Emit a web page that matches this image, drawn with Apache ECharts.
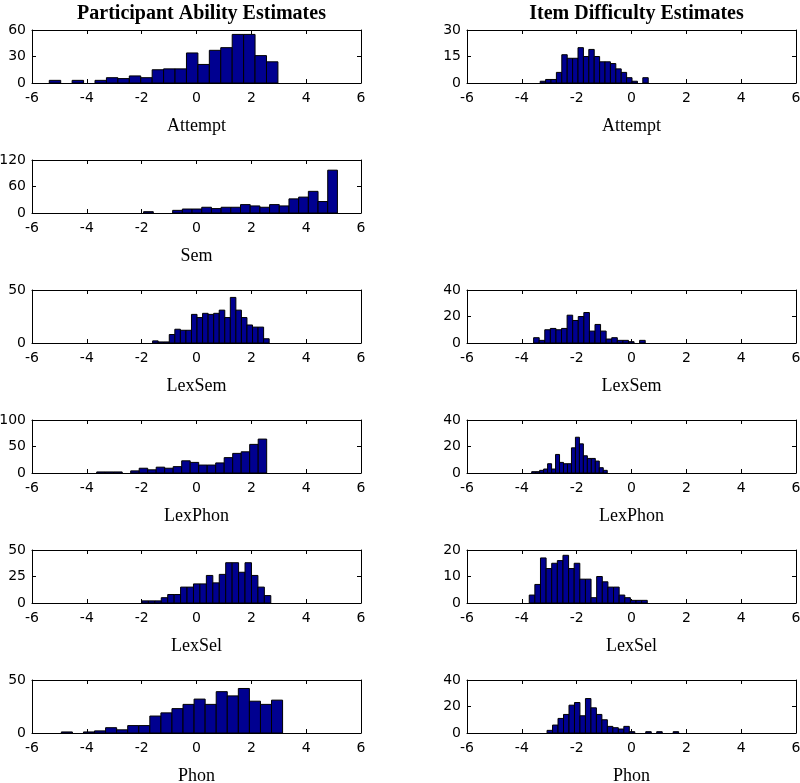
<!DOCTYPE html>
<html><head><meta charset="utf-8">
<script src="https://cdn.jsdelivr.net/npm/echarts@6/dist/echarts.min.js"></script>
<style>html,body{margin:0;padding:0;background:#fff}#c{width:800px;height:783px}</style>
</head><body><div id="c"></div>
<script>
// ---- data: histogram bins (first edge, bin width, counts) ----
const pAttemptStart = -5.37, pAttemptWidth = 0.417;
const pAttemptCounts = [3,0,3,0,3,6,5,8,6,15,16,16,34,21,37,40,55,55,31,24];
const iAttemptStart = -3.33, iAttemptWidth = 0.197;
const iAttemptCounts = [1,2,2,6,16,14,14,20,15,19,15,12,12,11,8,6,3,1,0,3];
const pSemStart = -1.93, pSemWidth = 0.3535;
const pSemCounts = [3,0,0,6,9,9,13,10,13,13,19,16,13,19,16,32,36,49,26,97];
const pLexSemStart = -1.6, pLexSemWidth = 0.2024;
const pLexSemCounts = [2,1,1,8,13,12,12,27,24,28,27,28,31,24,43,31,24,17,15,15,4];
const iLexSemStart = -3.57, iLexSemWidth = 0.2035;
const iLexSemCounts = [4,2,10,11,10,11,21,17,20,23,9,14,9,3,4,2,2,1,0,2];
const pLexPhonStart = -3.64, pLexPhonWidth = 0.31;
const pLexPhonCounts = [2,2,2,0,4,9,6,11,9,12,23,20,15,15,19,29,37,40,54,64];
const iLexPhonStart = -3.64, iLexPhonWidth = 0.145;
const iLexPhonCounts = [1,1,2,3,7,3,14,8,7,7,19,27,22,13,11,11,9,4,2,0];
const pLexSelStart = -1.99, pLexSelWidth = 0.235;
const pLexSelCounts = [2,2,2,5,8,8,15,15,18,18,26,19,27,38,38,29,38,26,15,7];
const iLexSelStart = -3.73, iLexSelWidth = 0.205;
const iLexSelCounts = [3,7,17,13,15,16,18,13,15,9,9,2,10,8,6,6,3,2,1,1,1];
const pPhonStart = -4.93, pPhonWidth = 0.4035;
const pPhonCounts = [1,0,1,2,5,3,7,7,16,19,23,27,32,27,39,35,42,30,27,31];
const iPhonStart = -3.08, iPhonWidth = 0.2;
const iPhonCounts = [2,6,11,14,21,23,13,26,19,14,10,5,4,3,5,1,0,0,1,0,1,0,0,1];

const columnTitles = ['Participant Ability Estimates', 'Item Difficulty Estimates'];
const xMin = -6, xMax = 6, xStep = 2;

const panels = [
  {label:'Attempt', col:0, row:0, start:pAttemptStart, width:pAttemptWidth, counts:pAttemptCounts, yMax:60, yStep:30},
  {label:'Attempt', col:1, row:0, start:iAttemptStart, width:iAttemptWidth, counts:iAttemptCounts, yMax:30, yStep:15},
  {label:'Sem', col:0, row:1, start:pSemStart, width:pSemWidth, counts:pSemCounts, yMax:120, yStep:60},
  {label:'LexSem', col:0, row:2, start:pLexSemStart, width:pLexSemWidth, counts:pLexSemCounts, yMax:50, yStep:50},
  {label:'LexSem', col:1, row:2, start:iLexSemStart, width:iLexSemWidth, counts:iLexSemCounts, yMax:40, yStep:20},
  {label:'LexPhon', col:0, row:3, start:pLexPhonStart, width:pLexPhonWidth, counts:pLexPhonCounts, yMax:100, yStep:50},
  {label:'LexPhon', col:1, row:3, start:iLexPhonStart, width:iLexPhonWidth, counts:iLexPhonCounts, yMax:40, yStep:20},
  {label:'LexSel', col:0, row:4, start:pLexSelStart, width:pLexSelWidth, counts:pLexSelCounts, yMax:50, yStep:25},
  {label:'LexSel', col:1, row:4, start:iLexSelStart, width:iLexSelWidth, counts:iLexSelCounts, yMax:20, yStep:10},
  {label:'Phon', col:0, row:5, start:pPhonStart, width:pPhonWidth, counts:pPhonCounts, yMax:50, yStep:50},
  {label:'Phon', col:1, row:5, start:iPhonStart, width:iPhonWidth, counts:iPhonCounts, yMax:40, yStep:20}
];

// ---- layout ----
const colLeft = [32, 467], plotW = 329, plotH = 53, rowTop0 = 30, rowGap = 130;
const tickFont = {color:'#000', fontFamily:'DejaVu Sans', fontSize:14};
const black = {color:'#000', width:1};
const grids = [], xAxes = [], yAxes = [], series = [];

panels.forEach((p, i) => {
  grids.push({left: colLeft[p.col], top: rowTop0 + p.row*rowGap, width: plotW, height: plotH,
    containLabel:false, outerBoundsMode:'none'});
  const baseX = {gridIndex:i, type:'value', min:xMin, max:xMax, interval:xStep,
    axisLine:{show:true, onZero:false, lineStyle:black}, splitLine:{show:false},
    axisTick:{show:true, inside:true, length:4, lineStyle:black}};
  xAxes.push(Object.assign({}, baseX, {position:'bottom',
    axisLabel:{...tickFont, margin:8},
    name:p.label, nameLocation:'middle', nameGap:34,
    nameTextStyle:{color:'#000', fontFamily:'Liberation Serif', fontSize:18}}));
  xAxes.push(Object.assign({}, baseX, {position:'top', axisLabel:{show:false}}));
  const baseY = {gridIndex:i, type:'value', min:0, max:p.yMax, interval:p.yStep,
    axisLine:{show:true, onZero:false, lineStyle:black}, splitLine:{show:false},
    axisTick:{show:true, inside:true, length:4, lineStyle:black}};
  yAxes.push(Object.assign({}, baseY, {position:'left', axisLabel:{...tickFont, margin:6}}));
  yAxes.push(Object.assign({}, baseY, {position:'right', axisLabel:{show:false}}));
  const data = [];
  p.counts.forEach((c, k) => {
    if (c > 0) data.push([p.start + k*p.width, p.start + (k+1)*p.width, c]);
  });
  series.push({type:'custom', xAxisIndex:2*i, yAxisIndex:2*i, data,
    encode:{x:[0,1], y:2}, silent:true, z:1,
    renderItem: (params, api) => {
      const a = api.coord([api.value(0), api.value(2)]);
      const b = api.coord([api.value(1), 0]);
      return {type:'rect', shape:{x:a[0], y:a[1], width:b[0]-a[0], height:b[1]-a[1]},
        style:{fill:'#000090', stroke:'#000', lineWidth:1}};
    }});
});

const titles = columnTitles.map((t, c) => ({text:t, left: colLeft[c] + plotW/2, top: -1, textAlign:'center',
  textStyle:{color:'#000', fontFamily:'Liberation Serif', fontWeight:'bold', fontSize:20}}));

const chart = echarts.init(document.getElementById('c'), null, {renderer:'canvas'});
chart.setOption({animation:false, backgroundColor:'#fff', title:titles, grid:grids, xAxis:xAxes, yAxis:yAxes, series});
</script></body></html>
